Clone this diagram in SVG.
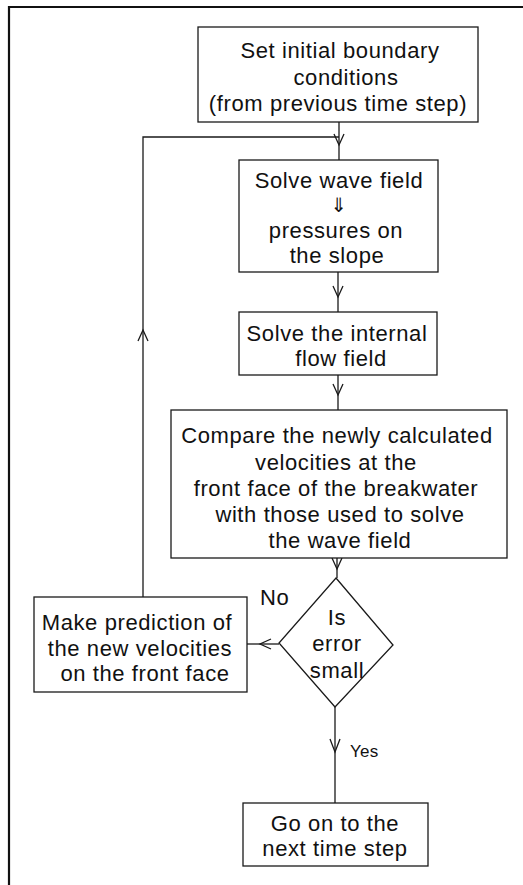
<svg xmlns="http://www.w3.org/2000/svg" width="523" height="885" viewBox="0 0 523 885">
<style>
.box{fill:#fff;stroke:#1a1a1a;stroke-width:1.3}
.ln{fill:none;stroke:#1a1a1a;stroke-width:1.3}
.ah{fill:none;stroke:#1a1a1a;stroke-width:1.3}
text{font-family:"Liberation Sans",Arial,sans-serif;font-size:22px;letter-spacing:0.6px;fill:#111;text-anchor:middle}
.sm{font-size:17px;letter-spacing:0.3px;text-anchor:start}
.lbl{text-anchor:start}
</style>
<path d="M9,885 L9,7 L523,7" fill="none" stroke="#111" stroke-width="2.2"/>
<g id="connectors">
<path class="ln" d="M339,122 V160"/>
<path class="ah" d="M334,134 L339,145 L344,134"/>
<path class="ln" d="M143,597 V137 H339"/>
<path class="ah" d="M138,341 L143,330 L148,341"/>
<path class="ln" d="M338,272 V312"/>
<path class="ah" d="M333,286 L338,297 L343,286"/>
<path class="ln" d="M338,375 V410"/>
<path class="ah" d="M333,384 L338,395 L343,384"/>
<path class="ln" d="M337,558 V578"/>
<path class="ah" d="M332,558 L337,569 L342,558"/>
<path class="ln" d="M279,644 H247"/>
<path class="ah" d="M271,639 L260,644 L271,649"/>
<path class="ln" d="M335,707 V803"/>
<path class="ah" d="M330,739 L335,752 L340,739"/>
<text class="lbl" x="260" y="605">No</text>
<text class="sm" x="350" y="757">Yes</text>
</g>
<g id="n1">
<rect class="box" x="198" y="27" width="280" height="95"/>
<text x="340" y="58">Set initial boundary</text>
<text x="346" y="85">conditions</text>
<text x="338" y="111">(from previous time step)</text>
</g>
<g id="n2">
<rect class="box" x="239" y="160" width="199" height="112"/>
<text x="339" y="188">Solve wave field</text>
<text x="339" y="212" style="font-family:'DejaVu Sans',sans-serif;font-size:20px;letter-spacing:0">⇓</text>
<text x="336" y="238">pressures on</text>
<text x="337" y="263">the slope</text>
</g>
<g id="n3">
<rect class="box" x="239" y="312" width="198" height="63"/>
<text x="337" y="341">Solve the internal</text>
<text x="341" y="366">flow field</text>
</g>
<g id="n4">
<rect class="box" x="171" y="410" width="336" height="148"/>
<text x="337" y="443">Compare the newly calculated</text>
<text x="336" y="470">velocities at the</text>
<text x="336" y="496">front face of the breakwater</text>
<text x="340" y="522">with those used to solve</text>
<text x="340" y="548">the wave field</text>
</g>
<g id="n5">
<polygon class="box" points="336,578 393,645 335,707 279,643"/>
<text x="337" y="625">Is</text>
<text x="337" y="651">error</text>
<text x="337" y="678">small</text>
</g>
<g id="n6">
<rect class="box" x="34" y="597" width="213" height="95"/>
<text x="137" y="630">Make prediction of</text>
<text x="140" y="656">the new velocities</text>
<text x="145" y="681">on the front face</text>
</g>
<g id="n7">
<rect class="box" x="243" y="803" width="185" height="63"/>
<text x="335" y="831">Go on to the</text>
<text x="335" y="856">next time step</text>
</g>
</svg>
